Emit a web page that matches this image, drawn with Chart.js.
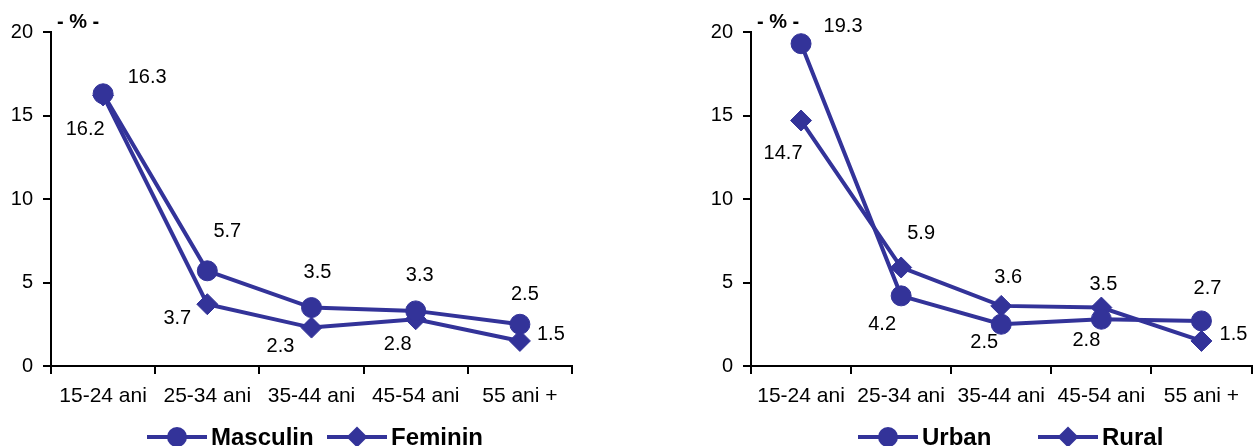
<!DOCTYPE html>
<html>
<head>
<meta charset="utf-8">
<script src="https://cdn.jsdelivr.net/npm/chart.js@4/dist/chart.umd.min.js"></script>
<style>
  html, body { margin: 0; padding: 0; background: #fff; overflow: hidden; }
  body { width: 1258px; height: 446px; position: relative; }
  .box { position: absolute; top: 0; }
</style>
</head>
<body>
<div class="box" style="left:0px"><canvas id="chartSex" width="600" height="446"></canvas></div>
<div class="box" style="left:700px"><canvas id="chartArea" width="563" height="446"></canvas></div>
<script>
// data
var ageGroups = ['15-24 ani', '25-34 ani', '35-44 ani', '45-54 ani', '55 ani +'];
var masculin = [16.3, 5.7, 3.5, 3.3, 2.5];
var feminin = [16.2, 3.7, 2.3, 2.8, 1.5];
var urban = [19.3, 4.2, 2.5, 2.8, 2.7];
var rural = [14.7, 5.9, 3.6, 3.5, 1.5];
var yMin = 0, yMax = 20, yStep = 5;
var unitLabel = '- % -';

// where each value label sits relative to its point (px)
var mascOff = [[44, -16], [20, -39], [6, -35], [4, -35], [5, -30]];
var femOff = [[-18, 34], [-30, 14], [-31, 19], [-18, 25], [31, -6]];
var urbOff = [[42, -17], [-19, 29], [-17, 18], [-15, 21], [6, -32]];
var rurOff = [[-18, 33], [20, -34], [7, -28], [2, -23], [32, -6]];

var blue = '#333399';
var fontFam = '"Liberation Sans", Arial, sans-serif';

var valueLabels = {
    id: 'valueLabels',
    afterDatasetsDraw: function(chart){
        var ctx = chart.ctx;
        ctx.save();
        ctx.fillStyle = '#000';
        ctx.font = '20px ' + fontFam;
        ctx.textAlign = 'center';
        ctx.textBaseline = 'middle';
        chart.data.datasets.forEach(function(ds, i){
            var meta = chart.getDatasetMeta(i);
            meta.data.forEach(function(pt, j){
                var off = ds.labelOffsets[j];
                ctx.fillText(ds.data[j].toFixed(1), pt.x + off[0], pt.y + off[1]);
            });
        });
        ctx.restore();
    }
};

var lineLegend = {
    id: 'lineLegend',
    afterDraw: function(chart){
        var ctx = chart.ctx;
        var opts = chart.options.plugins.lineLegend;
        ctx.save();
        // unit label above the y axis
        ctx.fillStyle = '#000';
        ctx.font = 'bold 20px ' + fontFam;
        ctx.textAlign = 'left';
        ctx.textBaseline = 'middle';
        ctx.fillText(unitLabel, chart.chartArea.left + 6, 22);

        chart.data.datasets.forEach(function(ds, i){
            var x0 = opts.starts[i];
            var y = opts.y;
            ctx.strokeStyle = blue;
            ctx.fillStyle = blue;
            ctx.lineWidth = 4;
            ctx.beginPath();
            ctx.moveTo(x0, y);
            ctx.lineTo(x0 + 60, y);
            ctx.stroke();
            Chart.helpers.drawPoint(ctx, {pointStyle: ds.pointStyle, radius: ds.pointRadius, rotation: 0, borderWidth: 0}, x0 + 30, y);
            ctx.fillStyle = '#000';
            ctx.font = 'bold 24px ' + fontFam;
            ctx.textAlign = 'left';
            ctx.textBaseline = 'middle';
            ctx.fillText(ds.label, x0 + 64, y + 1);
        });
        ctx.restore();
    }
};

function makeSet(label, values, style, radius, offsets){
    return {
        label: label,
        data: values,
        borderColor: blue,
        backgroundColor: blue,
        borderWidth: 4,
        pointStyle: style,
        pointRadius: radius,
        pointBorderWidth: 1,
        pointBackgroundColor: blue,
        pointBorderColor: blue,
        tension: 0,
        labelOffsets: offsets
    };
}

function createChart(id, sets, legendStarts){
    var ctx = document.getElementById(id).getContext('2d');
    return new Chart(ctx, {
        type: 'line',
        data: { labels: ageGroups, datasets: sets },
        options: {
            responsive: false,
            animation: false,
            layout: { padding: { top: 32, right: id === 'chartSex' ? 28 : 0, left: 0, bottom: 0 } },
            plugins: {
                legend: { display: false },
                tooltip: { enabled: false },
                lineLegend: { starts: legendStarts, y: 437 }
            },
            scales: {
                x: {
                    offset: true,
                    grid: { offset: true, drawOnChartArea: false, color: '#000', lineWidth: 2, tickLength: 8 },
                    border: { color: '#000', width: 2 },
                    ticks: { color: '#000', font: { family: fontFam, size: 21 }, padding: 10, maxRotation: 0, autoSkip: false },
                    afterFit: function(scale){ scale.height = 80; }
                },
                y: {
                    min: yMin,
                    max: yMax,
                    ticks: { stepSize: yStep, color: '#000', font: { family: fontFam, size: 20 }, padding: 10 },
                    grid: { drawOnChartArea: false, color: '#000', lineWidth: 2, tickLength: 8 },
                    border: { color: '#000', width: 2 },
                    afterFit: function(scale){ scale.width = 51; }
                }
            }
        },
        plugins: [valueLabels, lineLegend]
    });
}

createChart('chartSex', [
    makeSet('Masculin', masculin, 'circle', 10, mascOff),
    makeSet('Feminin', feminin, 'rectRot', 10.5, femOff)
], [147, 327]);

createChart('chartArea', [
    makeSet('Urban', urban, 'circle', 10, urbOff),
    makeSet('Rural', rural, 'rectRot', 10.5, rurOff)
], [158, 338]);
</script>
</body>
</html>
